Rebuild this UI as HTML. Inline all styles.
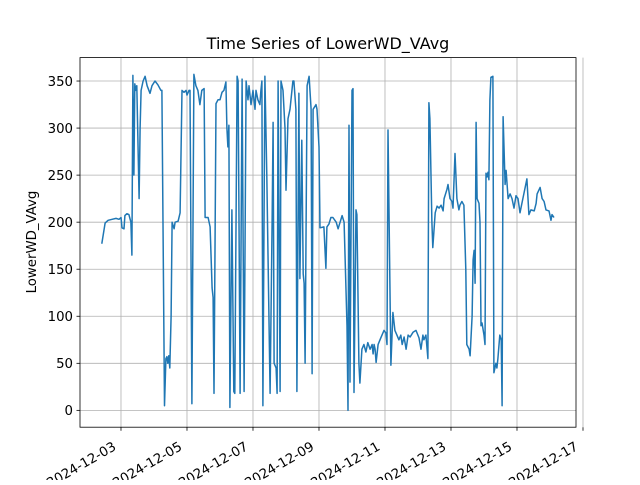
<!DOCTYPE html>
<html><head><meta charset="utf-8"><style>
body{margin:0;background:#fff;}
svg text{font-family:"DejaVu Sans","Liberation Sans",sans-serif;fill:#000;}
</style></head><body>
<svg id="chart" width="640" height="480" xmlns="http://www.w3.org/2000/svg">
<rect width="640" height="480" fill="#fff"/>
<g id="grid"></g>
<g id="ticks"></g>
<path id="line" fill="none" stroke="#1f77b4" stroke-width="1.5" stroke-linejoin="round"/>
<rect x="80" y="57.6" width="496" height="369.6" fill="none" stroke="#000" stroke-width="0.8"/>
<text x="328" y="49" font-size="16" text-anchor="middle">Time Series of LowerWD_VAvg</text>
<text transform="translate(36,242) rotate(-90)" font-size="13.3" text-anchor="middle">LowerWD_VAvg</text>
</svg>
<script>
// days of December 2024 (fractional)
const days=[2.42,2.52,2.61,2.73,2.85,2.94,3.00,3.03,3.09,3.12,3.18,3.24,3.30,3.33,3.36,3.39,3.42,3.45,3.48,3.55,3.58,3.61,3.67,3.73,3.79,3.88,3.94,4.03,4.12,4.21,4.24,4.32,4.36,4.39,4.42,4.45,4.48,4.52,4.55,4.61,4.64,4.73,4.79,4.85,4.91,4.97,5.00,5.06,5.09,5.15,5.21,5.27,5.33,5.39,5.45,5.52,5.55,5.64,5.70,5.76,5.79,5.82,5.88,5.94,6.00,6.06,6.12,6.18,6.21,6.24,6.27,6.30,6.36,6.42,6.45,6.52,6.55,6.61,6.67,6.73,6.79,6.85,6.88,6.94,7.00,7.06,7.09,7.15,7.21,7.24,7.27,7.30,7.36,7.42,7.52,7.58,7.61,7.64,7.70,7.73,7.76,7.82,7.85,7.91,7.97,8.00,8.06,8.12,8.21,8.24,8.30,8.33,8.39,8.42,8.48,8.52,8.55,8.58,8.64,8.70,8.76,8.79,8.82,8.91,8.94,9.00,9.03,9.15,9.21,9.24,9.30,9.36,9.42,9.52,9.58,9.64,9.70,9.76,9.85,9.88,9.91,9.94,10.00,10.03,10.06,10.12,10.15,10.21,10.24,10.30,10.36,10.42,10.48,10.55,10.61,10.64,10.67,10.70,10.73,10.79,10.85,10.91,10.97,11.03,11.06,11.09,11.18,11.24,11.30,11.36,11.42,11.48,11.52,11.58,11.64,11.70,11.76,11.85,11.94,12.03,12.09,12.15,12.18,12.24,12.30,12.33,12.36,12.42,12.45,12.52,12.58,12.64,12.70,12.76,12.79,12.88,12.91,12.97,13.03,13.06,13.12,13.18,13.24,13.27,13.33,13.39,13.45,13.48,13.55,13.58,13.64,13.67,13.70,13.73,13.76,13.79,13.85,13.88,13.91,13.94,14.00,14.03,14.06,14.09,14.12,14.15,14.18,14.21,14.27,14.30,14.36,14.39,14.42,14.48,14.52,14.55,14.58,14.64,14.67,14.70,14.73,14.79,14.85,14.91,14.97,15.03,15.09,15.15,15.30,15.36,15.42,15.52,15.58,15.61,15.70,15.76,15.82,15.88,15.97,16.03,16.06,16.12];
const values=[177,199,202,203,204,203,205,194,193,207,209,208,200,165,356,250,347,340,345,225,300,340,350,355,345,337,345,350,346,340,340,5,55,57,50,58,45,100,200,193,200,201,210,340,338,340,335,340,340,7,357,345,340,325,340,342,205,205,195,130,120,18,326,330,330,338,340,349,300,280,303,3,213,20,18,355,350,18,352,20,350,330,345,325,340,320,340,330,325,340,350,5,355,250,18,200,306,50,45,18,350,20,350,340,300,234,310,320,350,350,320,20,337,140,287,145,135,50,345,355,320,39,320,325,320,280,194,195,151,195,198,205,205,200,193,200,207,200,90,0,303,30,340,342,19,213,208,50,29,65,70,62,72,65,70,60,70,65,51,70,75,80,85,82,70,298,48,104,85,80,75,80,70,78,65,80,78,83,85,77,65,80,75,80,55,327,310,200,173,210,217,215,218,212,225,235,240,225,222,215,273,225,213,218,222,218,150,70,65,58,100,160,170,135,306,225,220,200,90,93,80,70,252,248,253,245,330,354,355,40,50,45,55,80,75,5,312,240,255,240,225,230,225,215,228,225,210,220,246,208,213,212,220,230,237,225,222,213,212,202,208,205];
const xTickDays=[3,5,7,9,11,13,15,17];
const xTickLabels=["2024-12-03","2024-12-05","2024-12-07","2024-12-09","2024-12-11","2024-12-13","2024-12-15","2024-12-17"];
const yTicks=[0,50,100,150,200,250,300,350];

const L=80,R=576,T=57.6,B=427.2;
const xMin=1.758,xMax=16.788,yMin=-17.9,yMax=374.9;
const xs=d=>L+(d-xMin)/(xMax-xMin)*(R-L);
const ys=v=>B-(v-yMin)/(yMax-yMin)*(B-T);
const NS="http://www.w3.org/2000/svg";
const grid=document.getElementById('grid'),ticks=document.getElementById('ticks');
function mk(tag,attrs,parent){const e=document.createElementNS(NS,tag);for(const k in attrs)e.setAttribute(k,attrs[k]);parent.appendChild(e);return e;}
xTickDays.forEach((d,i)=>{
  const x=xs(d);
  const g=mk('line',{x1:x,x2:x,y1:T,y2:B,stroke:'#b0b0b0','stroke-width':0.8},grid);
  
  
  const tk=mk('line',{x1:x,x2:x,y1:B,y2:B+3.5,stroke:'#000','stroke-width':0.8},ticks);
  
  
  const t=mk('text',{transform:`translate(${x-4},${B+22}) rotate(-30)`,'font-size':13.3,'text-anchor':'end'},ticks);
  t.textContent=xTickLabels[i];
  
  
});
yTicks.forEach(v=>{
  const y=ys(v);
  const g=mk('line',{x1:L,x2:R,y1:y,y2:y,stroke:'#b0b0b0','stroke-width':0.8},grid);
  
  
  const tk=mk('line',{x1:L-3.5,x2:L,y1:y,y2:y,stroke:'#000','stroke-width':0.8},ticks);
  
  
  const t=mk('text',{x:L-7,y:y+4.8,'font-size':13.3,'text-anchor':'end'},ticks);
  t.textContent=v;
  
  
});
document.getElementById('line').setAttribute('d',days.map((d,i)=>(i?'L':'M')+xs(d).toFixed(1)+','+ys(values[i]).toFixed(1)).join(''));
</script>
</body></html>
